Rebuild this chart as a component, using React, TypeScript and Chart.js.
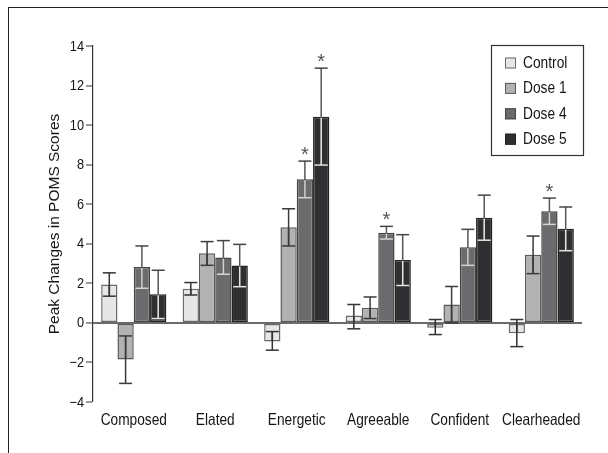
import React, { useEffect, useRef } from "react";
import { Chart, registerables } from "chart.js";

Chart.register(...registerables);

const categories = ["Composed", "Elated", "Energetic", "Agreeable", "Confident", "Clearheaded"];
const seriesNames = ["Control", "Dose 1", "Dose 4", "Dose 5"];

const controlValues = [1.94, 1.72, -0.94, 0.37, -0.25, -0.52];
const controlLow = [1.35, 1.41, -1.38, -0.3, -0.59, -1.2];
const controlHigh = [2.53, 2.04, -0.44, 0.93, 0.17, 0.17];

const dose1Values = [-1.85, 3.52, 4.83, 0.77, 0.93, 3.45];
const dose1Low = [-3.06, 2.91, 3.89, 0.22, 0.0, 2.49];
const dose1High = [-0.66, 4.11, 5.77, 1.31, 1.84, 4.39];

const dose4Values = [2.83, 3.3, 7.26, 4.56, 3.82, 5.64];
const dose4Low = [1.75, 2.46, 6.33, 4.24, 2.91, 4.98];
const dose4High = [3.89, 4.16, 8.18, 4.88, 4.73, 6.31];

const dose5Values = [1.45, 2.9, 10.42, 3.18, 5.32, 4.76];
const dose5Low = [0.22, 1.83, 7.98, 1.89, 4.18, 3.65];
const dose5High = [2.66, 3.97, 12.88, 4.46, 6.46, 5.86];

const controlSig = [false, false, false, false, false, false];
const dose1Sig = [false, false, false, false, false, false];
const dose4Sig = [false, false, true, true, false, true];
const dose5Sig = [false, false, true, false, false, false];

const yTicks = [-4, -2, 0, 2, 4, 6, 8, 10, 12, 14];
const yTitle = "Peak Changes in POMS Scores";

const FONT = "'Liberation Sans', Arial, 'DejaVu Sans', sans-serif";
const TEXT = "#151515";

const fills = ["#e6e6e6", "#b2b2b3", "#6b6b6d", "#2f2f31"];
const borders = ["#6a6a6a", "#5a5a5a", "#444444", "#222222"];
const errOuter = ["#333333", "#3a3a3a", "#555555", "#555555"];
const errCap = ["#333333", "#3a3a3a", "#444444", "#444444"];
const errInner = ["#333333", "#3a3a3a", "#d4d4d4", "#e4e4e4"];

const allValues = [controlValues, dose1Values, dose4Values, dose5Values];
const allLow = [controlLow, dose1Low, dose4Low, dose5Low];
const allHigh = [controlHigh, dose1High, dose4High, dose5High];
const allSig = [controlSig, dose1Sig, dose4Sig, dose5Sig];

function drawCondensed(
  ctx: CanvasRenderingContext2D,
  text: string,
  x: number,
  y: number,
  size: number,
  align: CanvasTextAlign,
  baseline: CanvasTextBaseline,
  sx: number
) {
  ctx.save();
  ctx.translate(x, y);
  ctx.scale(sx, 1);
  ctx.font = `${size}px ${FONT}`;
  ctx.fillStyle = TEXT;
  ctx.textAlign = align;
  ctx.textBaseline = baseline;
  ctx.fillText(text, 0, 0);
  ctx.restore();
}

const errorBarPlugin = {
  id: "errorBars",
  afterDatasetsDraw(chart: any) {
    const ctx = chart.ctx;
    const yScale = chart.scales.y;
    chart.data.datasets.forEach((_ds: any, di: number) => {
      const meta = chart.getDatasetMeta(di);
      meta.data.forEach((el: any, i: number) => {
        const x = el.x;
        const top = Math.min(el.y, el.base);
        const bot = Math.max(el.y, el.base);
        const yHi = yScale.getPixelForValue(allHigh[di][i]);
        const yLo = yScale.getPixelForValue(allLow[di][i]);
        ctx.save();
        ctx.lineWidth = 1.5;
        ctx.strokeStyle = errOuter[di];
        ctx.beginPath();
        ctx.moveTo(x, yHi);
        ctx.lineTo(x, yLo);
        ctx.stroke();
        const a = Math.max(yHi, top + 1);
        const b = Math.min(yLo, bot - 1);
        if (b > a) {
          ctx.strokeStyle = errInner[di];
          ctx.beginPath();
          ctx.moveTo(x, a);
          ctx.lineTo(x, b);
          ctx.stroke();
        }
        const hw = 6.5;
        [yHi, yLo].forEach((cy) => {
          const inside = cy > top + 1 && cy < bot - 1;
          ctx.strokeStyle = inside ? errInner[di] : errCap[di];
          ctx.beginPath();
          ctx.moveTo(x - hw, cy);
          ctx.lineTo(x + hw, cy);
          ctx.stroke();
        });
        if (allSig[di][i]) {
          ctx.fillStyle = "#555555";
          ctx.font = `20px ${FONT}`;
          ctx.textAlign = "center";
          ctx.textBaseline = "alphabetic";
          ctx.fillText("*", x, yHi);
        }
        ctx.restore();
      });
    });
  },
};

const textPlugin = {
  id: "condensedText",
  afterDraw(chart: any) {
    const ctx = chart.ctx as CanvasRenderingContext2D;
    const { chartArea } = chart;
    const xScale = chart.scales.x;
    const yScale = chart.scales.y;
    categories.forEach((c, i) => {
      const x = xScale.getPixelForValue(i);
      drawCondensed(ctx, c, x, chartArea.bottom + 23, 16.5, "center", "alphabetic", 0.83);
    });
    yTicks.forEach((v) => {
      const y = yScale.getPixelForValue(v);
      const label = v < 0 ? "\u2212" + Math.abs(v) : String(v);
      drawCondensed(ctx, label, chartArea.left - 9, y + 0.5, 14.5, "right", "middle", 0.88);
    });
    ctx.save();
    const lx = 491.5, ly = 45.5, lw = 92, lh = 110;
    ctx.strokeStyle = "#333333";
    ctx.lineWidth = 1.2;
    ctx.strokeRect(lx, ly, lw, lh);
    seriesNames.forEach((name, i) => {
      const cy = 63 + i * 25.4;
      ctx.fillStyle = fills[i];
      ctx.fillRect(505, cy - 5.5, 11, 11);
      ctx.strokeStyle = borders[i];
      ctx.lineWidth = 1;
      ctx.strokeRect(505.5, cy - 5, 10, 10);
      drawCondensed(ctx, name, 523, cy + 0.5, 16, "left", "middle", 0.86);
    });
    ctx.restore();
  },
};

export default function App() {
  const ref = useRef<HTMLCanvasElement>(null);
  useEffect(() => {
    if (!ref.current) return;
    const chart = new Chart(ref.current, {
      type: "bar",
      data: {
        labels: categories,
        datasets: seriesNames.map((name, i) => ({
          label: name,
          data: allValues[i],
          backgroundColor: fills[i],
          borderColor: borders[i],
          borderWidth: 1.5,
          borderSkipped: false,
          categoryPercentage: 0.8,
          barPercentage: 1.0,
        })),
      },
      options: {
        animation: false,
        responsive: false,
        maintainAspectRatio: false,
        layout: { padding: { left: 0, right: 26, top: 46, bottom: 0 } },
        plugins: { legend: { display: false }, tooltip: { enabled: false } },
        scales: {
          x: {
            grid: { display: false, drawTicks: false },
            border: { display: false },
            ticks: { display: false },
            afterFit: (s: any) => { s.height = 51; },
          },
          y: {
            min: -4,
            max: 14,
            afterBuildTicks: (s: any) => { s.ticks = yTicks.map((v) => ({ value: v })); },
            afterFit: (s: any) => { s.width = 93; },
            grid: {
              color: (c: any) => (c.tick && c.tick.value === 0 ? "#6a6a6a" : "rgba(0,0,0,0)"),
              lineWidth: (c: any) => (c.tick && c.tick.value === 0 ? 2 : 0),
              tickColor: "#333",
              tickWidth: 1,
              tickLength: 7,
              drawOnChartArea: true,
            },
            border: { display: true, color: "#333", width: 1.2 },
            ticks: { display: false },
            title: {
              display: true,
              text: yTitle,
              color: TEXT,
              font: { family: FONT, size: 15.5 },
              padding: { top: 45, bottom: 0 },
            },
          },
        },
      },
      plugins: [errorBarPlugin, textPlugin],
    });
    return () => chart.destroy();
  }, []);
  return (
    <>
      <div
        style={{
          position: "fixed",
          left: 8,
          top: 7,
          width: 600,
          height: 446,
          borderTop: "1px solid #222",
          borderLeft: "1px solid #222",
          boxSizing: "border-box",
        }}
      />
      <canvas
        ref={ref}
        width={608}
        height={453}
        style={{ position: "fixed", left: 0, top: 0, width: 608, height: 453 }}
      />
    </>
  );
}
